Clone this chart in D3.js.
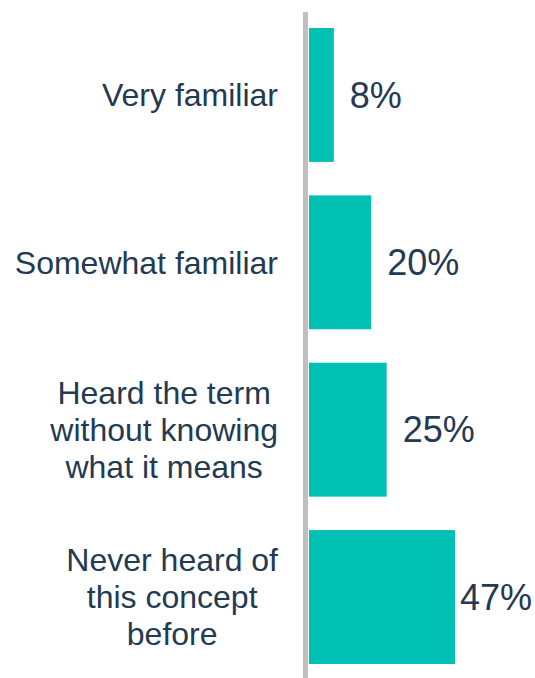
<!DOCTYPE html>
<html>
<head>
<meta charset="utf-8">
<script src="https://cdn.jsdelivr.net/npm/d3@7"></script>
<style>
  html, body { margin: 0; padding: 0; background: #ffffff; }
  svg { display: block; font-family: "Liberation Sans", Arial, Helvetica, sans-serif; }
</style>
</head>
<body>
<svg id="chart" width="535" height="678"></svg>
<script>
// Familiarity levels (top to bottom), each label split into its lines
const categories = [
  ["Very familiar"],
  ["Somewhat familiar"],
  ["Heard the term", "without knowing", "what it means"],
  ["Never heard of", "this concept", "before"]
];
const values = [8, 20, 25, 47];
const valueLabels = ["8%", "20%", "25%", "47%"];

const W = 535, H = 678;
const axisX = 305.5;      // centre of the grey baseline
const barX0 = 309;
const labelRight = 278;
const textColor = "#233a52";
const barColor = "#00bfb3";

const svg = d3.select("#chart");

const keys = categories.map((c, i) => i);
const y = d3.scaleBand().domain(keys).range([28, 664]).paddingInner(0.2).paddingOuter(0);
const x = d3.scaleLinear().domain([0, 47]).range([barX0, 455]);

// Bars
svg.append("g").selectAll("rect")
  .data(values)
  .join("rect")
  .attr("x", x(0))
  .attr("y", (d, i) => y(i))
  .attr("width", d => x(d) - x(0))
  .attr("height", y.bandwidth())
  .attr("fill", barColor);

// Vertical baseline
svg.append("line")
  .attr("x1", axisX).attr("x2", axisX)
  .attr("y1", 12).attr("y2", H)
  .attr("stroke", "#c0bfbe")
  .attr("stroke-width", 5);

// Category labels: lines centred with each other, block right-aligned
const lineH = 37;
const catG = svg.append("g");
categories.forEach((lines, i) => {
  const cy = y(i) + y.bandwidth() / 2;
  const t = catG.append("text")
    .attr("fill", textColor)
    .attr("font-size", 32)
    .attr("text-anchor", "middle");
  const spans = lines.map((ln, j) => t.append("tspan")
    .attr("y", cy + (j - (lines.length - 1) / 2) * lineH)
    .attr("dy", "0.35em")
    .text(ln));
  const maxW = d3.max(spans, s => s.node().getComputedTextLength());
  spans.forEach(s => s.attr("x", labelRight - maxW / 2));
});

// Value labels, kept inside the right edge
svg.append("g").selectAll("text")
  .data(values)
  .join("text")
  .attr("fill", textColor)
  .attr("font-size", 36)
  .attr("y", (d, i) => y(i) + y.bandwidth() / 2)
  .attr("dy", "0.35em")
  .text((d, i) => valueLabels[i])
  .attr("x", function(d) {
    const w = this.getComputedTextLength();
    return Math.min(x(d) + 16, W - 3 - w);
  });
</script>
</body>
</html>
